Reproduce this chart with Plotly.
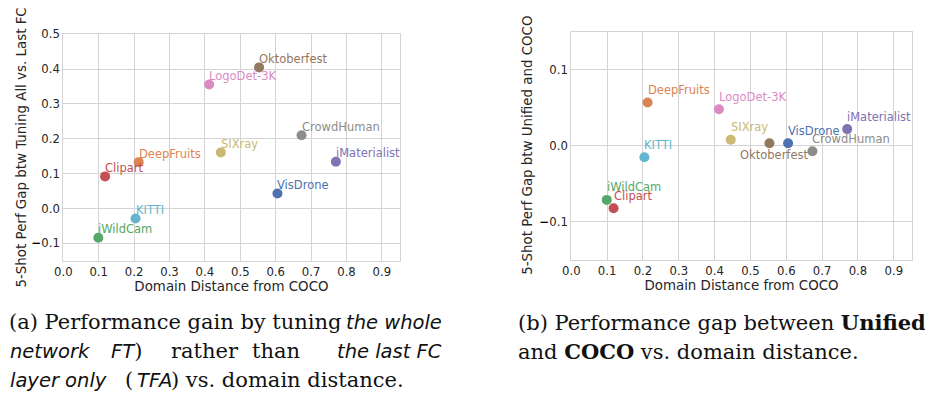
import plotly.graph_objects as go

# ---------------- data ----------------
datasets = ["VisDrone", "DeepFruits", "iWildCam", "Clipart", "iMaterialist",
            "Oktoberfest", "LogoDet-3K", "CrowdHuman", "SIXray", "KITTI"]
domain_distance = [0.605, 0.213, 0.099, 0.118, 0.770, 0.553, 0.412, 0.673, 0.445, 0.204]
gap_all_vs_lastfc = [0.043, 0.133, -0.084, 0.092, 0.134, 0.405, 0.356, 0.210, 0.161, -0.029]
gap_unified_vs_coco = [0.0035, 0.057, -0.071, -0.082, 0.022, 0.0035, 0.048, -0.007, 0.008, -0.015]
colors = ["#4c72b0", "#dd8452", "#55a868", "#c44e52", "#8172b3",
          "#937860", "#da8bc3", "#8c8c8c", "#ccb974", "#64b5cd"]
x_ticks = [0.0, 0.1, 0.2, 0.3, 0.4, 0.5, 0.6, 0.7, 0.8, 0.9]
y1_ticks = [-0.1, 0.0, 0.1, 0.2, 0.3, 0.4, 0.5]
y2_ticks = [-0.1, 0.0, 0.1]
# label placement for right panel (Oktoberfest is placed below)
right_label_below = ["Oktoberfest"]
LABEL_DY = 0.01  # labels sit slightly above their point (in data units)

# The page body has an 8px default margin, so the figure is 8px smaller and
# all page-pixel positions are shifted by 8.
OFF = 8
W, H = 933 - OFF, 394 - OFF
FONT = "DejaVu Sans"
TXT = "#262626"
GRID = "#d4d4d4"


def pxx(x):
    return (x - OFF) / W


def pxy(y):
    return 1 - (y - OFF) / H


def tick_text(vals):
    out = []
    for v in vals:
        if v < 0:
            out.append("<span style='color:#000'><b>\u2212</b></span>%.1f" % abs(v))
        else:
            out.append("%.1f" % v)
    return out


fig = go.Figure()
fig.add_trace(go.Scatter(x=domain_distance, y=gap_all_vs_lastfc, mode="markers",
                         marker=dict(color=colors, size=10, line=dict(width=0)),
                         xaxis="x", yaxis="y", showlegend=False, hoverinfo="text",
                         text=datasets))
fig.add_trace(go.Scatter(x=domain_distance, y=gap_unified_vs_coco, mode="markers",
                         marker=dict(color=colors, size=10, line=dict(width=0)),
                         xaxis="x2", yaxis="y2", showlegend=False, hoverinfo="text",
                         text=datasets))

annotations = []
for name, xv, yv, c in zip(datasets, domain_distance, gap_all_vs_lastfc, colors):
    annotations.append(dict(x=xv, y=yv + LABEL_DY, xref="x", yref="y", text=name,
                            showarrow=False, xanchor="left", yanchor="bottom",
                            xshift=-2, yshift=-4,
                            font=dict(family=FONT, size=11.5, color=c)))
for name, xv, yv, c in zip(datasets, domain_distance, gap_unified_vs_coco, colors):
    if name in right_label_below:
        annotations.append(dict(x=xv, y=yv, xref="x2", yref="y2", text=name, showarrow=False,
                                xanchor="center", yanchor="top", xshift=5, yshift=-3,
                                font=dict(family=FONT, size=11.5, color=c)))
    else:
        annotations.append(dict(x=xv, y=yv + LABEL_DY, xref="x2", yref="y2", text=name,
                                showarrow=False, xanchor="left", yanchor="bottom",
                                xshift=-2, yshift=-4,
                                font=dict(family=FONT, size=11.5, color=c)))

# y-axis titles (placed precisely)
annotations.append(dict(x=pxx(21), y=pxy((34.3 + 260.7) / 2), xref="paper", yref="paper",
                        text="5-Shot Perf Gap btw Tuning All vs. Last FC", textangle=-90,
                        showarrow=False, xanchor="center", yanchor="middle",
                        font=dict(family=FONT, size=13.4, color=TXT)))
annotations.append(dict(x=pxx(528), y=pxy((31.7 + 260) / 2), xref="paper", yref="paper",
                        text="5-Shot Perf Gap btw Unified and COCO", textangle=-90,
                        showarrow=False, xanchor="center", yanchor="middle",
                        font=dict(family=FONT, size=13.4, color=TXT)))

SERIF = "DejaVu Serif"
SANS_I = "<span style='font-family:DejaVu Sans;font-size:19.5px'><i>%s</i></span>"
cap_size = 21
# (x, y, anchor, text) - justified lines are split into pieces
captions = [
    (8, 322, "left", "(a) Performance gain by tuning"),
    (443, 322, "right", SANS_I % "the whole"),
    (9, 351, "left", SANS_I % "network"),
    (110, 351, "left", SANS_I % "FT" + ")"),
    (170, 351, "left", "rather"),
    (301, 351, "right", "than"),
    (443, 351, "right", SANS_I % "the last FC"),
    (9, 380, "left", SANS_I % "layer only"),
    (124, 380, "left", "("),
    (136, 380, "left", SANS_I % "TFA"),
    (170, 380, "left", ") vs. domain distance."),
    (517, 322, "left", "(b) Performance gap between <b>Unified</b>"),
    (517, 351, "left", "and <b>COCO</b> vs. domain distance."),
]
for px, py, anc, t in captions:
    annotations.append(dict(x=pxx(px), y=pxy(py), xref="paper", yref="paper", text=t,
                            showarrow=False, xanchor=anc, yanchor="middle", borderpad=0,
                            font=dict(family=SERIF, size=cap_size, color="#111111")))

axis_common = dict(showgrid=True, gridcolor=GRID, gridwidth=1, zeroline=False,
                   showline=True, linecolor=GRID, linewidth=1, mirror=True,
                   ticks="", automargin=False,
                   tickfont=dict(family=FONT, size=11.7, color=TXT),
                   title_font=dict(family=FONT, size=13.4, color=TXT))

layout = dict(
    width=W, height=H, paper_bgcolor="white", plot_bgcolor="white",
    margin=dict(l=0, r=0, t=0, b=0),
    xaxis=dict(domain=[pxx(63.3), pxx(399.6)], range=[0, 0.95], tickvals=x_ticks,
               ticktext=["%.1f" % v for v in x_ticks], anchor="y",
               title=dict(text="Domain Distance from COCO", standoff=2), **axis_common),
    yaxis=dict(domain=[pxy(260.7), pxy(34.3)], range=[-0.15, 0.5], tickvals=y1_ticks,
               ticktext=tick_text(y1_ticks), anchor="x", **axis_common),
    xaxis2=dict(domain=[pxx(571.3), pxx(911.7)], range=[0, 0.95], tickvals=x_ticks,
                ticktext=["%.1f" % v for v in x_ticks], anchor="y2",
                title=dict(text="Domain Distance from COCO", standoff=2), **axis_common),
    yaxis2=dict(domain=[pxy(260), pxy(31.7)], range=[-0.15, 0.15], tickvals=y2_ticks,
                ticktext=tick_text(y2_ticks), anchor="x2", **axis_common),
    annotations=annotations,
)
fig.update_layout(**layout)
fig.write_html("out.html")
